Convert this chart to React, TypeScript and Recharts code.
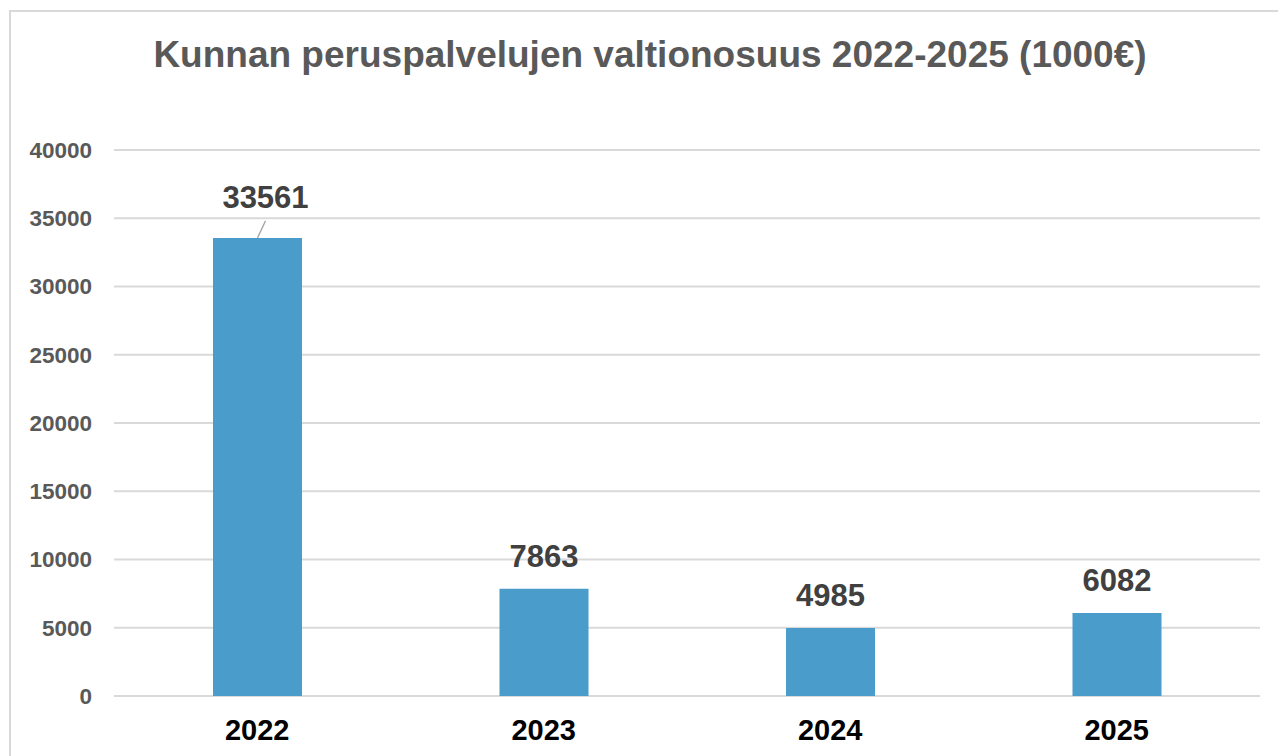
import React from "react";
import { BarChart, Bar, XAxis, YAxis, CartesianGrid, LabelList } from "recharts";

const years = ["2022", "2023", "2024", "2025"];
const values = [33561, 7863, 4985, 6082];
const yTicks = [0, 5000, 10000, 15000, 20000, 25000, 30000, 35000, 40000];

const data = years.map((y, i) => ({ year: y, value: values[i] }));

const FONT = "'Liberation Sans', Arial, sans-serif";

const renderLabel = (props: any) => {
  const { x, y, width, value, index } = props;
  const cx = x + width / 2;
  if (index === 0) {
    return (
      <g>
        <line x1={cx + 8} y1={y - 17} x2={cx} y2={y} stroke="#a6a6a6" strokeWidth={1.3} />
        <text
          x={cx + 8}
          y={y - 30}
          textAnchor="middle"
          fontFamily={FONT}
          fontWeight="bold"
          fontSize={31}
          fill="#404040"
        >
          {value}
        </text>
      </g>
    );
  }
  return (
    <text
      x={cx}
      y={y - 22}
      textAnchor="middle"
      fontFamily={FONT}
      fontWeight="bold"
      fontSize={31}
      fill="#404040"
    >
      {value}
    </text>
  );
};

export default function App() {
  return (
    <div style={{ position: "absolute", left: 0, top: 0, width: 1278, height: 756, overflow: "hidden", background: "#fff" }}>
      <div
        style={{
          position: "absolute",
          left: 9,
          top: 10,
          width: 1300,
          height: 800,
          border: "2px solid #d9d9d9",
          boxSizing: "border-box",
        }}
      />
      <div
        style={{
          position: "absolute",
          left: 0,
          top: 35,
          width: 1300,
          textAlign: "center",
          fontFamily: FONT,
          fontWeight: "bold",
          fontSize: 37,
          color: "#595959",
          lineHeight: "40px",
        }}
      >
        Kunnan peruspalvelujen valtionosuus 2022-2025 (1000€)
      </div>
      <div style={{ position: "absolute", left: 0, top: 0 }}>
        <BarChart
          width={1278}
          height={756}
          data={data}
          margin={{ top: 150, right: 18, bottom: 20, left: 14 }}
        >
          <CartesianGrid vertical={false} stroke="#d9d9d9" strokeWidth={2} />
          <XAxis
            dataKey="year"
            axisLine={false}
            tickLine={false}
            tickSize={0}
            tickMargin={23}
            height={40}
            tick={{ fontFamily: FONT, fontWeight: "bold", fontSize: 29, fill: "#000000" }}
          />
          <YAxis
            domain={[0, 40000]}
            ticks={yTicks}
            axisLine={false}
            tickLine={false}
            tickSize={0}
            tickMargin={22}
            width={100}
            interval={0}
            tick={{ fontFamily: FONT, fontWeight: "bold", fontSize: 22.5, fill: "#595959" }}
          />
          <Bar dataKey="value" fill="#4a9ccb" barSize={89} isAnimationActive={false}>
            <LabelList dataKey="value" content={renderLabel} />
          </Bar>
        </BarChart>
      </div>
    </div>
  );
}
